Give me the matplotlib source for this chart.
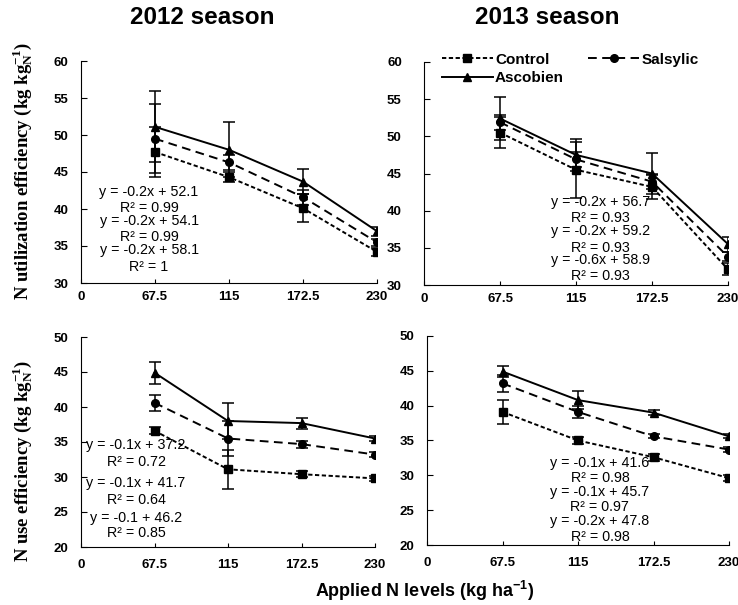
import matplotlib
matplotlib.use("Agg")
import matplotlib.pyplot as plt

plt.rcParams["font.family"] = ["Liberation Sans", "DejaVu Sans"]

# x categories (equally spaced, "0" sits on the y axis)
levels = ["67.5", "115", "172.5", "230"]
tick_labels = ["0"] + levels

# 2012 season, N utilization efficiency
ute12_control = [47.7, 44.3, 40.1, 34.2]
ute12_salsylic = [49.5, 46.3, 41.6, 35.5]
ute12_ascobien = [51.1, 48.0, 43.7, 37.0]
ute12_control_err = [3.4, 0.7, 1.9, 0.5]
ute12_salsylic_err = [4.7, 1.0, 1.0, 0.5]
ute12_ascobien_err = [4.8, 3.7, 1.7, 0.6]

# 2013 season, N utilization efficiency
ute13_control = [50.5, 45.5, 43.2, 32.1]
ute13_salsylic = [51.9, 46.9, 43.9, 33.8]
ute13_ascobien = [52.4, 47.5, 45.0, 35.5]
ute13_control_err = [2.1, 3.8, 1.6, 0.8]
ute13_salsylic_err = [1.0, 1.0, 1.0, 0.6]
ute13_ascobien_err = [2.9, 2.2, 2.7, 1.0]

# 2012 season, N use efficiency
use12_control = [36.6, 31.1, 30.4, 29.8]
use12_salsylic = [40.6, 35.5, 34.7, 33.2]
use12_ascobien = [44.9, 38.0, 37.7, 35.5]
use12_control_err = [0.5, 2.8, 0.4, 0.4]
use12_salsylic_err = [1.1, 2.5, 0.5, 0.4]
use12_ascobien_err = [1.6, 2.6, 0.8, 0.4]

# 2013 season, N use efficiency
use13_control = [39.1, 35.0, 32.6, 29.6]
use13_salsylic = [43.2, 39.1, 35.6, 33.7]
use13_ascobien = [44.9, 40.8, 39.0, 35.6]
use13_control_err = [1.7, 0.5, 0.5, 0.4]
use13_salsylic_err = [1.2, 0.8, 0.3, 0.3]
use13_ascobien_err = [0.8, 1.3, 0.4, 0.3]

eq_ute12 = ["y = -0.2x + 52.1", "R² = 0.99", "y = -0.2x + 54.1", "R² = 0.99",
            "y = -0.2x + 58.1", "R² = 1"]
eq_ute13 = ["y = -0.2x + 56.7", "R² = 0.93", "y = -0.2x + 59.2", "R² = 0.93",
            "y = -0.6x + 58.9", "R² = 0.93"]
eq_use12 = ["y = -0.1x + 37.2", "R² = 0.72", "y = -0.1x + 41.7", "R² = 0.64",
            "y = -0.1 + 46.2", "R² = 0.85"]
eq_use13 = ["y = -0.1x + 41.6", "R² = 0.98", "y = -0.1x + 45.7", "R² = 0.97",
            "y = -0.2x + 47.8", "R² = 0.98"]

STYLES = {
    "Control": dict(marker="s", dashes=(2.2, 1.3)),
    "Salsylic": dict(marker="o", dashes=(4.5, 2.8)),
    "Ascobien": dict(marker="^", dashes=None),
}

W, H = 738, 605
fig = plt.figure(figsize=(W / 100, H / 100), dpi=100)


def px_axes(left, right, top, bottom):
    return fig.add_axes([left / W, 1 - bottom / H, (right - left) / W, (bottom - top) / H])


def draw(ax, series, ylim, ypad, eqs, eq_x, eq_y):
    xs = [1, 2, 3, 4]
    for name, vals, err in series:
        st = STYLES[name]
        line, = ax.plot(xs, vals, color="black", lw=1.4, marker=st["marker"],
                        ms=5.5, label=name)
        if st["dashes"]:
            line.set_dashes(st["dashes"])
        ax.errorbar(xs, vals, yerr=err, fmt="none", ecolor="black",
                    elinewidth=1.1, capsize=4, capthick=1.1)
    ax.set_xlim(0, 4)
    ax.set_ylim(*ylim)
    ax.set_yticks(range(ylim[0], ylim[1] + 1, 5))
    ax.set_xticks(range(5))
    ax.set_xticklabels(tick_labels)
    for s in ["top", "right"]:
        ax.spines[s].set_visible(False)
    ax.tick_params(axis="y", direction="in", length=4, pad=ypad, labelsize=9.5)
    ax.tick_params(axis="x", direction="in", length=3, pad=6, labelsize=9.5)
    for lab in ax.get_xticklabels() + ax.get_yticklabels():
        lab.set_fontweight("bold")
    for t, y in zip(eqs, eq_y):
        ax.text(eq_x, y, t, ha="center", va="center", fontsize=10.3)


ax1 = px_axes(81, 377, 61, 283)
draw(ax1, [("Control", ute12_control, ute12_control_err),
           ("Salsylic", ute12_salsylic, ute12_salsylic_err),
           ("Ascobien", ute12_ascobien, ute12_ascobien_err)],
     (30, 60), 9, eq_ute12, 0.92, [42.3, 40.1, 38.4, 36.2, 34.5, 32.2])

ax2 = px_axes(424, 728, 62, 285)
draw(ax2, [("Control", ute13_control, ute13_control_err),
           ("Salsylic", ute13_salsylic, ute13_salsylic_err),
           ("Ascobien", ute13_ascobien, ute13_ascobien_err)],
     (30, 60), 16, eq_ute13, 2.32, [41.1, 39.0, 37.2, 35.0, 33.3, 31.2])

ax3 = px_axes(81, 375, 337, 547)
draw(ax3, [("Control", use12_control, use12_control_err),
           ("Salsylic", use12_salsylic, use12_salsylic_err),
           ("Ascobien", use12_ascobien, use12_ascobien_err)],
     (20, 50), 9, eq_use12, 0.75, [34.5, 32.1, 29.1, 26.7, 24.2, 22.0])
ax3.tick_params(axis="x", pad=9)

ax4 = px_axes(427, 729, 336, 545)
draw(ax4, [("Control", use13_control, use13_control_err),
           ("Salsylic", use13_salsylic, use13_salsylic_err),
           ("Ascobien", use13_ascobien, use13_ascobien_err)],
     (20, 50), 9, eq_use13, 2.29, [31.8, 29.6, 27.6, 25.5, 23.5, 21.2])
ax4.tick_params(axis="x", pad=9)

# legend in the 2013 utilization panel
h, l = ax2.get_legend_handles_labels()
order = [0, 2, 1]
ax2.legend([h[i] for i in order], [l[i] for i in order], ncol=2,
           loc="upper left", bbox_to_anchor=(0.04, 1.07), frameon=False,
           handlelength=3.3, handletextpad=0.15, columnspacing=1.6,
           labelspacing=0.3, borderaxespad=0,
           prop={"weight": "bold", "size": 11})

fig.text(202 / W, 1 - 18 / H, "2012 season", ha="center", va="center",
         fontsize=17.5, fontweight="bold")
fig.text(547 / W, 1 - 18 / H, "2013 season", ha="center", va="center",
         fontsize=17.5, fontweight="bold")
fig.text(425 / W, 1 - 591 / H, "Applied N levels (kg ha$^{\\mathregular{-1}}$)",
         ha="center", va="center", fontsize=13, fontweight="bold")

serif = ["Liberation Serif", "DejaVu Serif"]
fig.text(23 / W, 1 - 171 / H,
         "N utilization efficiency (kg kg$\\mathregular{_N^{-1}}$)",
         rotation=90, ha="center", va="center", fontsize=13.5,
         family=serif, fontweight="bold")
fig.text(23 / W, 1 - 461 / H,
         "N use efficiency (kg kg$\\mathregular{_N^{-1}}$)",
         rotation=90, ha="center", va="center", fontsize=13.5,
         family=serif, fontweight="bold")

fig.savefig("out.png", dpi=100)
